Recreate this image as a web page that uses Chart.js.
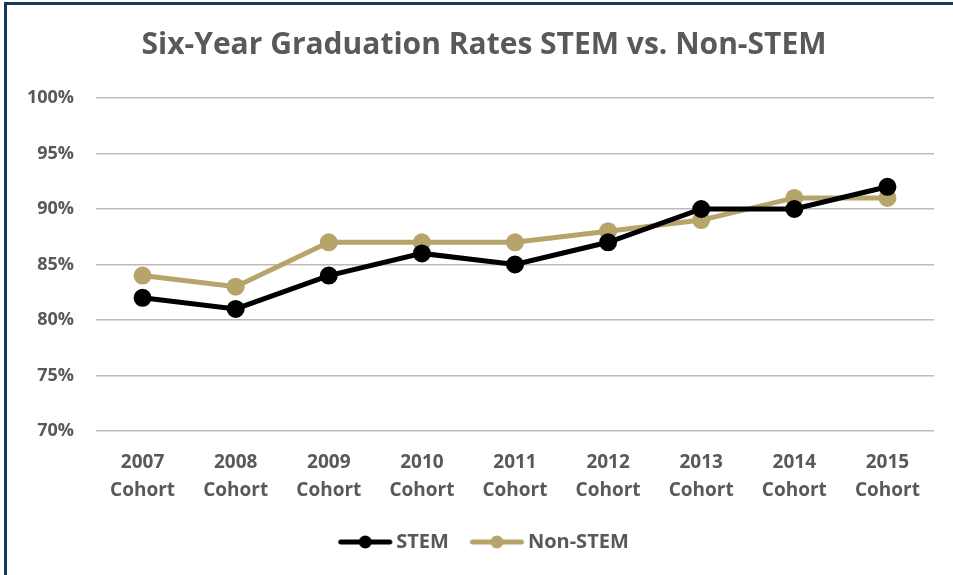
<!DOCTYPE html>
<html>
<head>
<meta charset="utf-8">
<script src="https://cdn.jsdelivr.net/npm/chart.js@4/dist/chart.umd.min.js"></script>
<style>
  html, body { margin: 0; padding: 0; background: #fff; }
  #wrap { position: relative; width: 953px; height: 575px; }
  #frame { position: absolute; left: 4px; top: 2px; right: 0; bottom: 0;
           border-left: 3px solid #17375E; border-top: 3px solid #17375E; pointer-events: none; }
  canvas { position: absolute; left: 0; top: 0; }
</style>
</head>
<body>
<div id="wrap">
  <canvas id="chart" width="953" height="575"></canvas>
  <div id="frame"></div>
</div>
<script>
// chart data
var cohorts = ['2007', '2008', '2009', '2010', '2011', '2012', '2013', '2014', '2015'];
var stemRates = [82, 81, 84, 86, 85, 87, 90, 90, 92];
var nonStemRates = [84, 83, 87, 87, 87, 88, 89, 91, 91];
var yTicks = [70, 75, 80, 85, 90, 95, 100];

var STEM_COLOR = '#000000';
var NONSTEM_COLOR = '#B6A46A';
var TEXT_COLOR = '#595959';
var FONT = '"Open Sans", sans-serif';

// line + dot marker for the legend (a bit of empty room on the left)
function legendMarker(color) {
    var c = document.createElement('canvas');
    c.width = 66;
    c.height = 14;
    var g = c.getContext('2d');
    g.strokeStyle = color;
    g.lineWidth = 5;
    g.lineCap = 'round';
    g.beginPath();
    g.moveTo(11, 7);
    g.lineTo(60, 7);
    g.stroke();
    g.fillStyle = color;
    g.beginPath();
    g.arc(35.5, 7, 6.5, 0, Math.PI * 2);
    g.fill();
    return c;
}

// move title and legend centre right, the way the original sits
var shiftBoxes = {
    id: 'shiftBoxes',
    afterLayout: function (chart) {
        if (chart.titleBlock) chart.titleBlock.left += 34;
        if (chart.legend) chart.legend.left += 34;
    }
};

var ctx = document.getElementById('chart').getContext('2d');
var chart = new Chart(ctx, {
    type: 'line',
    data: {
        labels: cohorts.map(function (y) { return [y, 'Cohort']; }),
        datasets: [{
            label: 'STEM',
            data: stemRates,
            borderColor: STEM_COLOR,
            backgroundColor: STEM_COLOR,
            borderWidth: 5,
            pointRadius: 6.5,
            pointHoverRadius: 6.5,
            tension: 0
        }, {
            label: 'Non-STEM',
            data: nonStemRates,
            borderColor: NONSTEM_COLOR,
            backgroundColor: NONSTEM_COLOR,
            borderWidth: 5,
            pointRadius: 6.5,
            pointHoverRadius: 6.5,
            tension: 0
        }]
    },
    plugins: [shiftBoxes],
    options: {
        responsive: false,
        animation: false,
        layout: { padding: { left: 0, right: 19, top: 27, bottom: 13 } },
        plugins: {
            title: {
                display: true,
                text: 'Six-Year Graduation Rates STEM vs. Non-STEM',
                color: TEXT_COLOR,
                font: { family: FONT, size: 30, weight: 'bold', lineHeight: 1.2 },
                padding: { top: 0, bottom: 35 }
            },
            legend: {
                position: 'bottom',
                labels: {
                    color: TEXT_COLOR,
                    font: { family: FONT, size: 20, weight: 'bold' },
                    usePointStyle: true,
                    pointStyleWidth: 47,
                    padding: 22,
                    generateLabels: function (chart) {
                        return chart.data.datasets.map(function (ds, i) {
                            return {
                                text: ds.label,
                                fontColor: TEXT_COLOR,
                                pointStyle: legendMarker(ds.borderColor),
                                datasetIndex: i,
                                lineWidth: 0,
                                hidden: false
                            };
                        });
                    }
                }
            },
            tooltip: { enabled: false }
        },
        scales: {
            x: {
                offset: true,
                afterFit: function (s) { s.height = 79; },
                grid: { display: false, drawTicks: false },
                border: { display: false },
                ticks: {
                    color: TEXT_COLOR,
                    font: { family: FONT, size: 19, weight: 'bold', lineHeight: 1.47 },
                    padding: 18,
                    maxRotation: 0
                }
            },
            y: {
                min: 70,
                max: 100,
                afterFit: function (s) { s.width = 96; },
                afterBuildTicks: function (s) {
                    s.ticks = yTicks.map(function (v) { return { value: v }; });
                },
                grid: { color: '#BDBABD', lineWidth: 1.5, drawTicks: false },
                border: { display: false },
                ticks: {
                    color: TEXT_COLOR,
                    font: { family: FONT, size: 18, weight: 'bold' },
                    padding: 22,
                    callback: function (v) { return v + '%'; }
                }
            }
        }
    }
});
</script>
</body>
</html>
